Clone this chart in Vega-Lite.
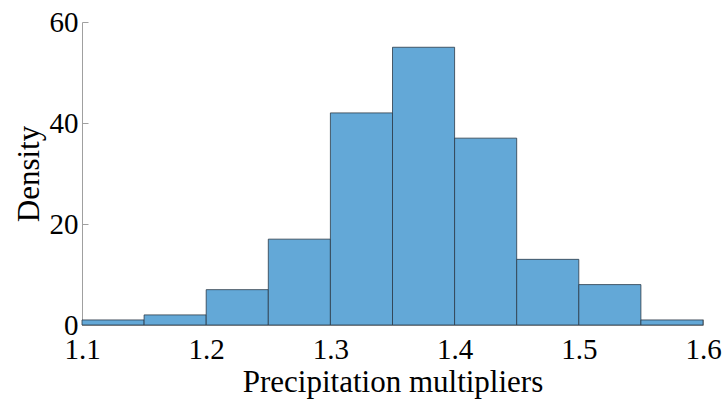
{
  "$schema": "https://vega.github.io/schema/vega-lite/v6.json",
  "autosize": "none",
  "width": 621,
  "height": 303,
  "padding": {"left": 82, "top": 22, "right": 21, "bottom": 78},
  "background": "white",
  "config": {
    "view": {"stroke": null},
    "font": "Liberation Serif"
  },
  "data": {
    "values": [
      {"bin_start": 1.10, "bin_end": 1.15, "density": 1},
      {"bin_start": 1.15, "bin_end": 1.20, "density": 2},
      {"bin_start": 1.20, "bin_end": 1.25, "density": 7},
      {"bin_start": 1.25, "bin_end": 1.30, "density": 17},
      {"bin_start": 1.30, "bin_end": 1.35, "density": 42},
      {"bin_start": 1.35, "bin_end": 1.40, "density": 55},
      {"bin_start": 1.40, "bin_end": 1.45, "density": 37},
      {"bin_start": 1.45, "bin_end": 1.50, "density": 13},
      {"bin_start": 1.50, "bin_end": 1.55, "density": 8},
      {"bin_start": 1.55, "bin_end": 1.60, "density": 1}
    ]
  },
  "mark": {"type": "rect", "fill": "#63a8d7", "stroke": "#2b3a48", "strokeWidth": 0.8},
  "encoding": {
    "x": {
      "field": "bin_start", "type": "quantitative",
      "scale": {"domain": [1.1, 1.6], "nice": false, "zero": false},
      "axis": {
        "title": "Precipitation multipliers",
        "values": [1.1, 1.2, 1.3, 1.4, 1.5, 1.6],
        "format": ".1f",
        "labelFont": "Liberation Serif", "labelFontSize": 29, "labelColor": "black",
        "titleFont": "Liberation Serif", "titleFontSize": 31, "titleColor": "black", "titleFontWeight": "normal",
        "domainColor": "#a0a0a0", "tickColor": "#a0a0a0", "tickSize": -6,
        "labelPadding": 16, "titlePadding": 3, "grid": false, "labelFlush": false, "labelOverlap": false
      }
    },
    "x2": {"field": "bin_end"},
    "y": {
      "field": "density", "type": "quantitative",
      "scale": {"domain": [0, 60], "nice": false},
      "axis": {
        "title": "Density",
        "values": [0, 20, 40, 60],
        "labelFont": "Liberation Serif", "labelFontSize": 29, "labelColor": "black",
        "titleFont": "Liberation Serif", "titleFontSize": 31, "titleColor": "black", "titleFontWeight": "normal",
        "domainColor": "#a0a0a0", "tickColor": "#a0a0a0", "tickSize": -6,
        "labelPadding": 10, "titlePadding": 4, "grid": false, "labelOverlap": false
      }
    },
    "y2": {"datum": 0}
  }
}
